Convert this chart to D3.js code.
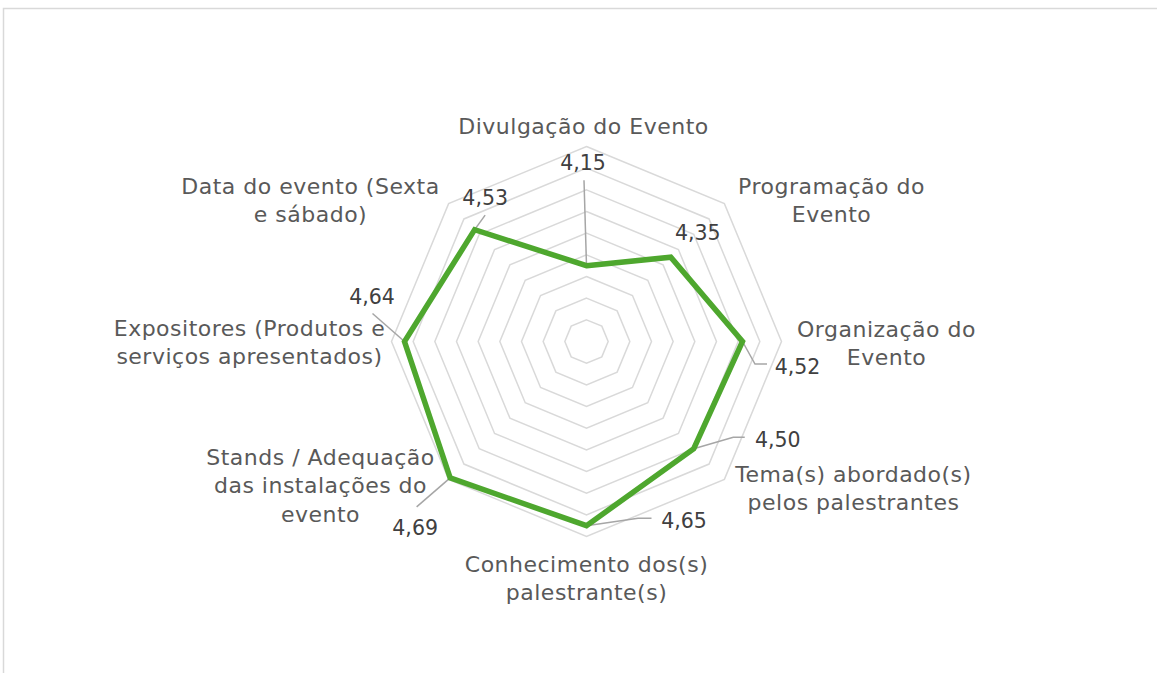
<!DOCTYPE html>
<html>
<head>
<meta charset="utf-8">
<script src="https://cdn.jsdelivr.net/npm/d3@7"></script>
<style>
  html, body { margin: 0; padding: 0; background: #fff; }
  svg { display: block; }
</style>
</head>
<body>
<svg id="chart"></svg>
<script>
// categories (clockwise from the top) and the mean scores
const categories = [
  ["Divulgação do Evento"],
  ["Programação do", "Evento"],
  ["Organização do", "Evento"],
  ["Tema(s) abordado(s)", "pelos palestrantes"],
  ["Conhecimento dos(s)", "palestrante(s)"],
  ["Stands / Adequação", "das instalações do", "evento"],
  ["Expositores (Produtos e", "serviços apresentados)"],
  ["Data do evento (Sexta", "e sábado)"]
]
const values = [4.15, 4.35, 4.52, 4.50, 4.65, 4.69, 4.64, 4.53]
const axisMin = 3.8, axisMax = 4.7, axisStep = 0.1

// layout: where the category labels sit (relative to the centre)
const catPos = [[-3, -208], [245, -148], [300, -5], [267, 140], [0, 230], [-266, 123], [-337, -6], [-276, -148]]
// data label offsets from the point, and the leader line bends (relative to the point)
const lblOff = [[-3.5, -95.5], [27, -17], [55, 32], [84, -2], [97.5, 2.5], [-35, 57], [-32.5, -38], [10.5, -24.5]]
const leaders = [
  [[-2.5, -85.5]], null, [[12.5, 22.5], [24.5, 22.5]], [[39.5, -11.5], [51, -11.5]],
  [[51.5, -7.5], [65, -7.5]], [[-33.5, 29]], [[-32, -28]], [[10.5, -14.5]]
]

const width = 1157, height = 673
const cx = 586.5, cy = 341.5, R = 195

const svg = d3.select("#chart")
    .attr("width", width)
    .attr("height", height)

// chart area border (only the top and left edges are in view)
svg.append("path")
    .attr("d", `M3.5,${height}V8.5H${width}`)
    .attr("fill", "none")
    .attr("stroke", "#d9d9d9")
    .attr("stroke-width", 1.5)

const r = d3.scaleLinear().domain([axisMin, axisMax]).range([0, R])
const angle = i => i * 2 * Math.PI / categories.length

const g = svg.append("g").attr("transform", `translate(${cx},${cy})`)

// rings
const ringVals = d3.range(axisMin + axisStep, axisMax + axisStep / 2, axisStep)
const line = d3.lineRadial().angle((d, i) => angle(i)).curve(d3.curveLinearClosed)

g.append("g")
  .selectAll("path")
  .data(ringVals)
  .join("path")
    .attr("d", v => line.radius(r(v))(categories.map(() => 0)))
    .attr("fill", "none")
    .attr("stroke", "#d9d9d9")
    .attr("stroke-width", 1.5)

// series
const pts = values.map((v, i) => [Math.sin(angle(i)) * r(v), -Math.cos(angle(i)) * r(v)])

// leader lines
g.append("g")
  .selectAll("path")
  .data(values.map((v, i) => i).filter(i => leaders[i]))
  .join("path")
    .attr("d", i => d3.line()([pts[i], ...leaders[i].map(p => [pts[i][0] + p[0], pts[i][1] + p[1]])]))
    .attr("fill", "none")
    .attr("stroke", "#a6a6a6")
    .attr("stroke-width", 1.5)

g.append("path")
    .attr("d", d3.lineRadial()
        .angle((d, i) => angle(i))
        .radius(d => r(d))
        .curve(d3.curveLinearClosed)(values))
    .attr("fill", "none")
    .attr("stroke", "#4ea72e")
    .attr("stroke-width", 5.5)
    .attr("stroke-linejoin", "miter")

// data labels
g.append("g")
  .selectAll("text")
  .data(values)
  .join("text")
    .attr("x", (d, i) => pts[i][0] + lblOff[i][0])
    .attr("y", (d, i) => pts[i][1] + lblOff[i][1])
    .attr("text-anchor", "middle")
    .attr("font-family", "DejaVu Sans, sans-serif")
    .attr("font-size", 20.5)
    .attr("fill", "#404040")
    .text(d => d3.format(".2f")(d).replace(".", ","))

// category labels
const cat = g.append("g")
  .selectAll("text")
  .data(categories)
  .join("text")
    .attr("x", (d, i) => catPos[i][0])
    .attr("y", (d, i) => catPos[i][1])
    .attr("text-anchor", "middle")
    .attr("font-family", "DejaVu Sans, sans-serif")
    .attr("font-size", 22)
    .attr("letter-spacing", 0.5)
    .attr("fill", "#595959")

cat.selectAll("tspan")
  .data(d => d)
  .join("tspan")
    .attr("x", function () { return d3.select(this.parentNode).attr("x") })
    .attr("dy", (d, j) => j === 0 ? 0 : 28.5)
    .text(d => d)
</script>
</body>
</html>
